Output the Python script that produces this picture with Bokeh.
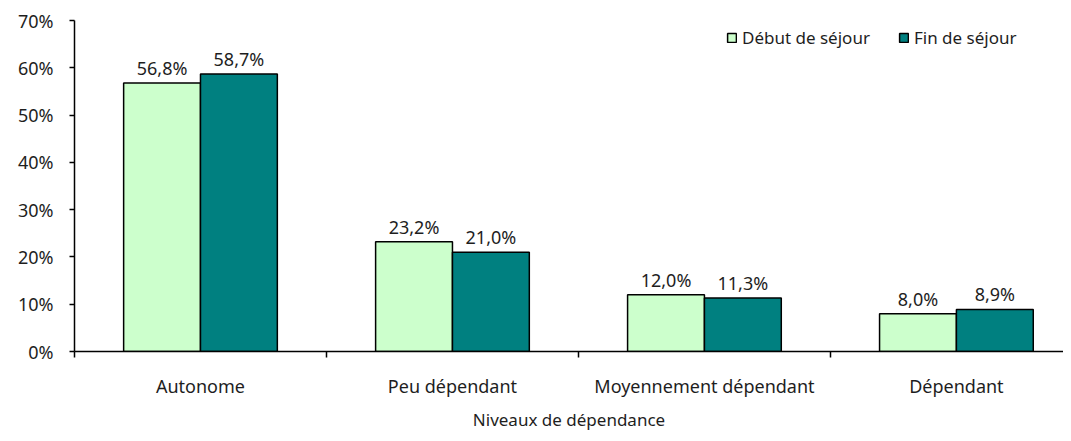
from bokeh.plotting import figure
from bokeh.models import Range1d, FixedTicker, PrintfTickFormatter, ColumnDataSource, Legend, LegendItem
from bokeh.core.properties import value
from bokeh.embed import file_html
from bokeh.resources import INLINE

categories = ["Autonome", "Peu dépendant", "Moyennement dépendant", "Dépendant"]
series_names = ["Début de séjour", "Fin de séjour"]
debut = [56.8, 23.2, 12.0, 8.0]
fin = [58.7, 21.0, 11.3, 8.9]
y_ticks = [0, 10, 20, 30, 40, 50, 60, 70]
colors = ["#CCFFCC", "#008080"]

FONT = "Noto Sans"
TXT = "#1e1e1e"

p = figure(width=1063, height=433, output_backend="svg", toolbar_location=None,
           x_range=Range1d(0, 3.925), y_range=Range1d(0, 70),
           min_border_left=74, min_border_right=0, min_border_top=20, min_border_bottom=70)
p.outline_line_color = None
p.xgrid.visible = False
p.ygrid.visible = False
p.background_fill_color = "white"

bw = 0.305
renderers = []
for k, (vals, col) in enumerate(zip([debut, fin], colors)):
    xs = [i + 0.5 + (k - 0.5) * bw for i in range(len(categories))]
    src = ColumnDataSource(dict(x=xs, top=vals,
                                lab=[("%.1f%%" % v).replace(".", ",") for v in vals]))
    r = p.vbar(x="x", top="top", width=bw, bottom=0, source=src, fill_color=col,
               line_color="black", line_width=1.5)
    renderers.append(r)
    p.text(x="x", y="top", text="lab", source=src, text_align="center",
           text_baseline="bottom", y_offset=-3, text_font=value(FONT),
           text_font_size="18px", text_color=TXT)

# y axis
p.yaxis.ticker = FixedTicker(ticks=y_ticks)
p.yaxis.formatter = PrintfTickFormatter(format="%d%%")
p.yaxis.axis_line_width = 1.5
p.yaxis.axis_line_color = "black"
p.yaxis.major_tick_out = 5
p.yaxis.major_tick_in = 0
p.yaxis.major_tick_line_width = 1.5
p.yaxis.minor_tick_line_color = None
p.yaxis.major_label_text_font = FONT
p.yaxis.major_label_text_font_size = "18px"
p.yaxis.major_label_text_color = TXT
p.yaxis.major_label_standoff = 16

# x axis
centers = [i + 0.5 for i in range(len(categories))]
p.xaxis.ticker = FixedTicker(ticks=centers, minor_ticks=list(range(len(categories) + 1)))
p.xaxis.major_label_overrides = {c: name for c, name in zip(centers, categories)}
p.xaxis.major_tick_line_color = None
p.xaxis.major_tick_out = 6
p.xaxis.minor_tick_out = 6
p.xaxis.minor_tick_in = 0
p.xaxis.minor_tick_line_width = 1.5
p.xaxis.minor_tick_line_color = "black"
p.xaxis.axis_line_width = 1.5
p.xaxis.axis_line_color = "black"
p.xaxis.major_label_text_font = FONT
p.xaxis.major_label_text_font_size = "18px"
p.xaxis.major_label_text_color = TXT
p.xaxis.major_label_standoff = 16
p.xaxis.axis_label = "Niveaux de dépendance"
p.xaxis.axis_label_text_font = FONT
p.xaxis.axis_label_text_font_size = "17px"
p.xaxis.axis_label_text_font_style = "normal"
p.xaxis.axis_label_text_color = TXT
p.xaxis.axis_label_standoff = 7

legend = Legend(items=[LegendItem(label=n, renderers=[r]) for n, r in zip(series_names, renderers)],
                orientation="horizontal", location=(652, 302))
legend.border_line_color = None
legend.background_fill_alpha = 0
legend.glyph_width = 11
legend.glyph_height = 11
legend.label_standoff = 5
legend.spacing = 28
legend.padding = 0
legend.margin = 0
legend.label_text_font = FONT
legend.label_text_font_size = "17px"
legend.label_text_color = TXT
p.add_layout(legend)

open("out.html", "w").write(file_html(p, INLINE))
